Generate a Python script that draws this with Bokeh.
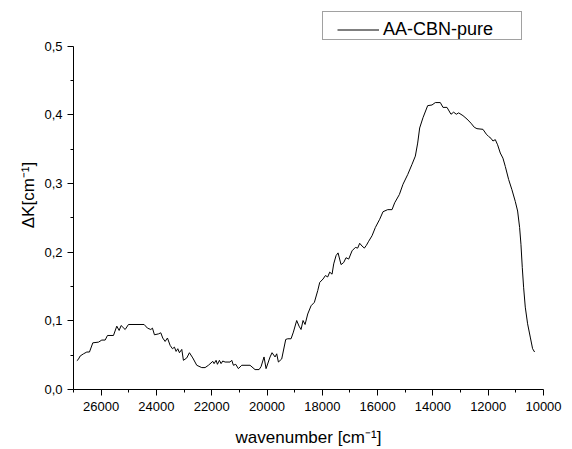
from bokeh.plotting import figure
from bokeh.models import Range1d, FixedTicker, CustomJSTickFormatter, Legend, LegendItem
from bokeh.embed import file_html
from bokeh.resources import INLINE

series_name = "AA-CBN-pure"
x_label = "wavenumber [cm\u207b\u00b9]"
y_label = "\u0394K[cm\u207b\u00b9]"

x_major_ticks = [26000, 24000, 22000, 20000, 18000, 16000, 14000, 12000, 10000]
x_minor_ticks = [27000, 25000, 23000, 21000, 19000, 17000, 15000, 13000, 11000]
y_major_ticks = [0.0, 0.1, 0.2, 0.3, 0.4, 0.5]
y_minor_ticks = [0.05, 0.15, 0.25, 0.35, 0.45]

wavenumber = [
    26880, 26831, 26759, 26638, 26518, 26422, 26301, 26096, 25976, 25855, 25771, 25554,
    25434, 25349, 25277, 25132, 25012, 24445, 24325, 24204, 24144, 24072, 23927, 23843,
    23771, 23686, 23602, 23505, 23421, 23349, 23289, 23228, 23168, 23084, 23024, 22903,
    22807, 22686, 22542, 22361, 22240, 22120, 21963, 21915, 21843, 21794, 21722, 21662,
    21602, 21517, 21337, 21276, 21216, 21132, 21036, 20915, 20614, 20433, 20288, 20216,
    20108, 20035, 19890, 19818, 19710, 19650, 19589, 19469, 19324, 19252, 19131, 19047,
    18927, 18842, 18770,
    18697, 18624, 18528, 18407, 18287, 18166, 18094, 17973, 17889, 17805, 17733, 17648,
    17588, 17504, 17431, 17323, 17227, 17142, 17046, 16925, 16805, 16721, 16648, 16564,
    16480, 16407, 16323, 16202, 16082, 15925, 15805, 15636, 15479, 15383, 15214, 15082,
    14913, 14756, 14636, 14551, 14479, 14359, 14190, 14033, 13913, 13732, 13636, 13491,
    13346, 13250, 13154, 13069, 12913, 12768, 12624, 12503, 12407, 12190, 12069, 11985,
    11901, 11828, 11744, 11660, 11563, 11467, 11382, 11262, 11142, 11021, 10936, 10864,
    10816, 10768, 10720, 10659, 10575, 10479, 10394, 10322,
]
delta_k = [
    0.042, 0.0435, 0.0488, 0.052, 0.0546, 0.0546, 0.068, 0.069, 0.072, 0.072, 0.0787, 0.0787,
    0.0923, 0.086, 0.0932, 0.0874, 0.0947, 0.0947, 0.0894, 0.0874, 0.0894, 0.0797, 0.081, 0.0826,
    0.0749, 0.070, 0.075, 0.0643, 0.0594, 0.0617, 0.0555, 0.0594, 0.0536, 0.0584, 0.0425, 0.046,
    0.0536, 0.046, 0.0353, 0.0319, 0.0319, 0.0353, 0.041, 0.0377, 0.0425, 0.0367, 0.0425, 0.0377,
    0.0415, 0.040, 0.040, 0.0425, 0.0353, 0.0367, 0.0304, 0.0353, 0.0353, 0.029, 0.029, 0.0333,
    0.0474, 0.0304, 0.0474, 0.0536, 0.0474, 0.052, 0.040, 0.0445, 0.0729, 0.0739, 0.0739, 0.0836,
    0.1005, 0.0923, 0.0874,
    0.1005, 0.0947, 0.110, 0.122, 0.127, 0.144, 0.156, 0.161, 0.166, 0.164, 0.171, 0.168,
    0.183, 0.195, 0.199, 0.182, 0.185, 0.192, 0.190, 0.202, 0.207, 0.206, 0.213, 0.209,
    0.206, 0.210, 0.216, 0.224, 0.236, 0.248, 0.259, 0.262, 0.262, 0.272, 0.284, 0.299,
    0.313, 0.328, 0.340, 0.359, 0.381, 0.396, 0.4135, 0.4145, 0.418, 0.418, 0.411, 0.411,
    0.401, 0.404, 0.401, 0.403, 0.399, 0.394, 0.388, 0.382, 0.380, 0.379, 0.372, 0.3686,
    0.366, 0.362, 0.364, 0.3565, 0.3445, 0.337, 0.325, 0.306, 0.291, 0.274, 0.260, 0.236,
    0.2116, 0.178, 0.149, 0.120, 0.0957, 0.0764, 0.0594, 0.0546,
]

FONT = "Liberation Sans"

# frame reaches the canvas top so the legend (above the 0.5 level) stays inside it;
# the axis itself is bounded to 0 .. 0.5
p = figure(width=572, height=449, output_backend="svg", toolbar_location=None,
           x_range=Range1d(27000, 10000), y_range=Range1d(0, 0.5667),
           min_border_left=73, min_border_right=29, min_border_top=0, min_border_bottom=58)
p.outline_line_color = None
p.background_fill_color = "white"
p.border_fill_color = "white"
p.xgrid.visible = False
p.ygrid.visible = False

r = p.line(wavenumber, delta_k, line_color="black", line_width=1)
# empty, invisible renderer only used to draw the legend frame
frame_r = p.line(x=[], y=[], line_alpha=0)

p.xaxis.ticker = FixedTicker(ticks=x_major_ticks, minor_ticks=x_minor_ticks)
p.yaxis.ticker = FixedTicker(ticks=y_major_ticks, minor_ticks=y_minor_ticks)
p.yaxis.bounds = (0, 0.5)
p.xaxis.formatter = CustomJSTickFormatter(code="return tick.toFixed(0);")
p.yaxis.formatter = CustomJSTickFormatter(code="return tick.toFixed(1).replace('.', ',');")

for ax in (p.xaxis[0], p.yaxis[0]):
    ax.axis_line_color = "black"
    ax.axis_line_width = 1
    ax.major_tick_line_color = "black"
    ax.minor_tick_line_color = "black"
    ax.major_tick_in = 0
    ax.major_tick_out = 6
    ax.minor_tick_in = 0
    ax.minor_tick_out = 3
    ax.major_label_text_font = FONT
    ax.major_label_text_font_size = "13px"
    ax.major_label_text_color = "black"
    ax.axis_label_text_font = FONT
    ax.axis_label_text_font_size = "17px"
    ax.axis_label_text_font_style = "normal"
    ax.axis_label_text_color = "black"

p.xaxis.major_label_standoff = 6
p.xaxis.axis_label_standoff = 14
p.yaxis.major_label_standoff = 5
p.yaxis.axis_label_standoff = 3

p.xaxis.axis_label = x_label
p.yaxis.axis_label = y_label

# legend box (frame only)
box = Legend(items=[LegendItem(label=" ", renderers=[frame_r])],
             location=(249, 349), orientation="vertical")
box.border_line_color = "#444444"
box.border_line_width = 1
box.background_fill_color = "white"
box.background_fill_alpha = 1
box.padding = 4
box.margin = 0
box.glyph_width = 20
box.glyph_height = 19
box.label_standoff = 0
box.label_width = 170
box.label_height = 19
box.label_text_font = FONT
box.label_text_font_size = "17px"
p.add_layout(box, "center")

# legend entry drawn inside the box
legend = Legend(items=[LegendItem(label=series_name, renderers=[r])],
                location=(264, 349), orientation="vertical")
legend.border_line_color = None
legend.background_fill_alpha = 0
legend.padding = 4
legend.margin = 0
legend.glyph_width = 42
legend.glyph_height = 19
legend.label_height = 19
legend.label_standoff = 4
legend.label_text_font = FONT
legend.label_text_font_size = "18px"
legend.label_text_color = "black"
p.add_layout(legend, "center")

open("out.html", "w").write(file_html(p, INLINE))
